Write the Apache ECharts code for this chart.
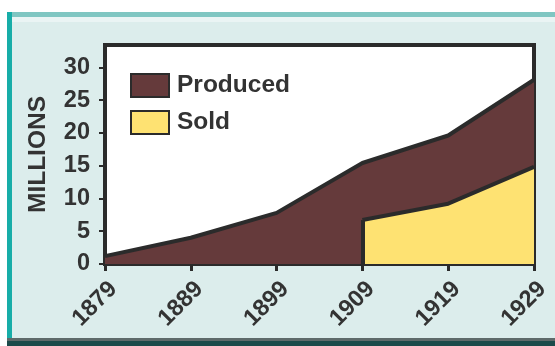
<!DOCTYPE html>
<html>
<head>
<meta charset="utf-8">
<script src="https://cdn.jsdelivr.net/npm/echarts@6/dist/echarts.min.js"></script>
<style>
html,body{margin:0;padding:0;background:#ffffff;}
#c{width:555px;height:346px;}
</style>
</head>
<body>
<div id="c"></div>
<script>
var years = ['1879', '1889', '1899', '1909', '1919', '1929'];
var produced = [1.2, 4.0, 7.8, 15.4, 19.6, 28.1];
var sold = [null, null, null, 6.7, 9.2, 14.8];
var yTicks = [0, 5, 10, 15, 20, 25, 30];
var seriesNames = ['Produced', 'Sold'];
var yName = 'MILLIONS';

var INK = '#2b2b2b';
var FONT = '"Liberation Sans", Arial, sans-serif';
var firstSold = sold.findIndex(function (v) { return v != null; });

var chart = echarts.init(document.getElementById('c'), null, {renderer: 'canvas'});
chart.setOption({
  animation: false,
  backgroundColor: '#ffffff',
  graphic: [
    {type: 'rect', z: -10, shape: {x: 7, y: 12, width: 548, height: 334}, style: {fill: '#DCEDEC'}},
    {type: 'rect', z: -9, shape: {x: 7, y: 12, width: 548, height: 5}, style: {fill: '#7FC6C2'}},
    {type: 'rect', z: -9, shape: {x: 12, y: 17, width: 543, height: 5}, style: {fill: '#EAF4F4'}},
    {type: 'rect', z: -9, shape: {x: 7, y: 12, width: 5, height: 326}, style: {fill: '#17ADA8'}},
    {type: 'rect', z: -9, shape: {x: 7, y: 338, width: 548, height: 3}, style: {fill: '#5E6A6A'}},
    {type: 'rect', z: -9, shape: {x: 7, y: 341, width: 548, height: 5}, style: {fill: '#1B4A4A'}}
  ],
  grid: {
    left: 105, right: 21, top: 45, bottom: 82,
    show: true, backgroundColor: '#ffffff', borderColor: INK, borderWidth: 4
  },
  legend: {
    orient: 'vertical', left: 130, top: 73, padding: 0,
    itemWidth: 38, itemHeight: 23, itemGap: 12, icon: 'rect',
    textStyle: {fontFamily: FONT, fontWeight: 'bold', fontSize: 24.5, color: '#333333', padding: [0, 0, 0, 3], lineHeight: 23},
    data: [
      {name: seriesNames[0], itemStyle: {color: '#653A3B', borderColor: INK, borderWidth: 2}},
      {name: seriesNames[1], itemStyle: {color: '#FEE272', borderColor: INK, borderWidth: 2}}
    ]
  },
  xAxis: {
    type: 'category', data: years, boundaryGap: false,
    axisLine: {show: true, lineStyle: {color: INK, width: 4}},
    axisTick: {show: true, alignWithLabel: true, length: 7, lineStyle: {color: INK, width: 3}},
    axisLabel: {rotate: 45, margin: 13, fontFamily: FONT, fontWeight: 'bold', fontSize: 23.5, color: '#333333', verticalAlign: 'top'},
    splitLine: {show: false}
  },
  yAxis: {
    type: 'value', min: 0, max: 33.4, interval: 5,
    name: yName, nameLocation: 'middle', nameRotate: 90, nameGap: 54,
    nameTextStyle: {fontFamily: FONT, fontWeight: 'bold', fontSize: 24.5, color: '#333333'},
    axisLine: {show: true, lineStyle: {color: INK, width: 4}},
    axisTick: {show: true, length: 6, lineStyle: {color: INK, width: 2}},
    axisLabel: {margin: 15, fontFamily: FONT, fontWeight: 'bold', fontSize: 23.5, color: '#333333',
      showMaxLabel: false,
      formatter: function (v) { return yTicks.indexOf(v) >= 0 ? String(v) : ''; }},
    splitLine: {show: false}
  },
  series: [
    {
      name: seriesNames[0], type: 'line', data: produced, symbol: 'none', z: 2,
      itemStyle: {color: '#653A3B'},
      lineStyle: {color: INK, width: 4},
      areaStyle: {color: '#653A3B', opacity: 1}
    },
    {
      name: seriesNames[1], type: 'line', data: sold, symbol: 'none', z: 3,
      itemStyle: {color: '#FEE272'},
      lineStyle: {color: INK, width: 4},
      areaStyle: {color: '#FEE272', opacity: 1},
      markLine: {
        silent: true, symbol: 'none', label: {show: false},
        lineStyle: {color: INK, width: 4, type: 'solid'},
        data: [[{coord: [years[firstSold], 0]}, {coord: [years[firstSold], sold[firstSold]]}]]
      }
    }
  ]
});
</script>
</body>
</html>
